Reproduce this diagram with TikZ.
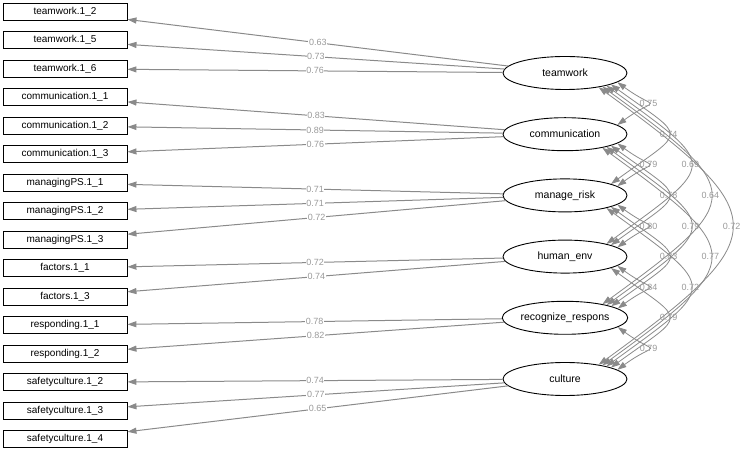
\documentclass[tikz,border=0pt]{standalone}
\usepackage{fontspec}
\setmainfont{Liberation Sans}
\usetikzlibrary{shapes.geometric,arrows.meta}
\definecolor{edgegray}{HTML}{8A8A8A}
\definecolor{lblgray}{HTML}{9A9A9A}
\begin{document}
\begin{tikzpicture}[x=1pt,y=1pt,
 manifest/.style={draw=black, line width=0.9pt, minimum width=124pt, minimum height=17pt, inner sep=0pt, font=\fontsize{10}{12}\selectfont},
 latent/.style={ellipse, draw=black, line width=0.9pt, minimum width=124pt, minimum height=33pt, inner sep=0pt, font=\fontsize{10.5}{12}\selectfont},
 loading/.style={draw=edgegray, line width=1pt, -{Triangle[length=9pt,width=6pt]}},
 cov/.style={draw=edgegray, line width=0.8pt, {Triangle[length=9pt,width=6pt]}-{Triangle[length=9pt,width=6pt]}},
 lbl/.style={fill=white, text=lblgray, inner sep=0.6pt, font=\fontsize{9}{10}\selectfont},
 covlbl/.style={text=lblgray, inner sep=0pt, font=\fontsize{9}{10}\selectfont}]
\useasboundingbox (0,0) rectangle (743,452);
% manifest variables
\foreach \i/\t in {1/teamwork.1\_2, 2/teamwork.1\_5, 3/teamwork.1\_6,
  4/communication.1\_1, 5/communication.1\_2, 6/communication.1\_3,
  7/managingPS.1\_1, 8/managingPS.1\_2, 9/managingPS.1\_3,
  10/factors.1\_1, 11/factors.1\_3, 12/responding.1\_1, 13/responding.1\_2,
  14/safetyculture.1\_2, 15/safetyculture.1\_3, 16/safetyculture.1\_4}
  \node[manifest] (m\i) at (65,{452-11.8-28.5*(\i-1)}) {\t};
% latent variables
\foreach \k/\t in {1/teamwork, 2/communication, 3/manage\_risk, 4/human\_env, 5/recognize\_respons, 6/culture}
  \node[latent] (l\k) at (565,{452-73-61.2*(\k-1)}) {\t};
% loadings
\foreach \l/\m/\v in {1/1/0.63, 1/2/0.73, 1/3/0.76, 2/4/0.83, 2/5/0.89, 2/6/0.76,
  3/7/0.71, 3/8/0.71, 3/9/0.72, 4/10/0.72, 4/11/0.74, 5/12/0.78, 5/13/0.82,
  6/14/0.74, 6/15/0.77, 6/16/0.65}
  \draw[loading] (l\l) -- (m\m) node[lbl,pos=0.5] {\v};
% covariances
\foreach \i/\j/\v/\th/\L in {1/2/0.75/10/51.3, 1/3/0.74/14/94.8, 1/4/0.69/17/138.4, 1/5/0.64/20/178, 1/6/0.72/23/219,
  2/3/0.79/10/51.3, 2/4/0.78/14/94.8, 2/5/0.79/17/138.4, 2/6/0.77/20/178,
  3/4/0.80/10/51.3, 3/5/0.83/14/94.8, 3/6/0.72/17/138.4,
  4/5/0.84/10/51.3, 4/6/0.79/14/94.8, 5/6/0.79/10/51.3}
  \draw[cov] (l\i.-\th) .. controls +(-36:\L) and +(36:\L) .. (l\j.\th) node[covlbl,pos=0.5] {\v};
\end{tikzpicture}
\end{document}
